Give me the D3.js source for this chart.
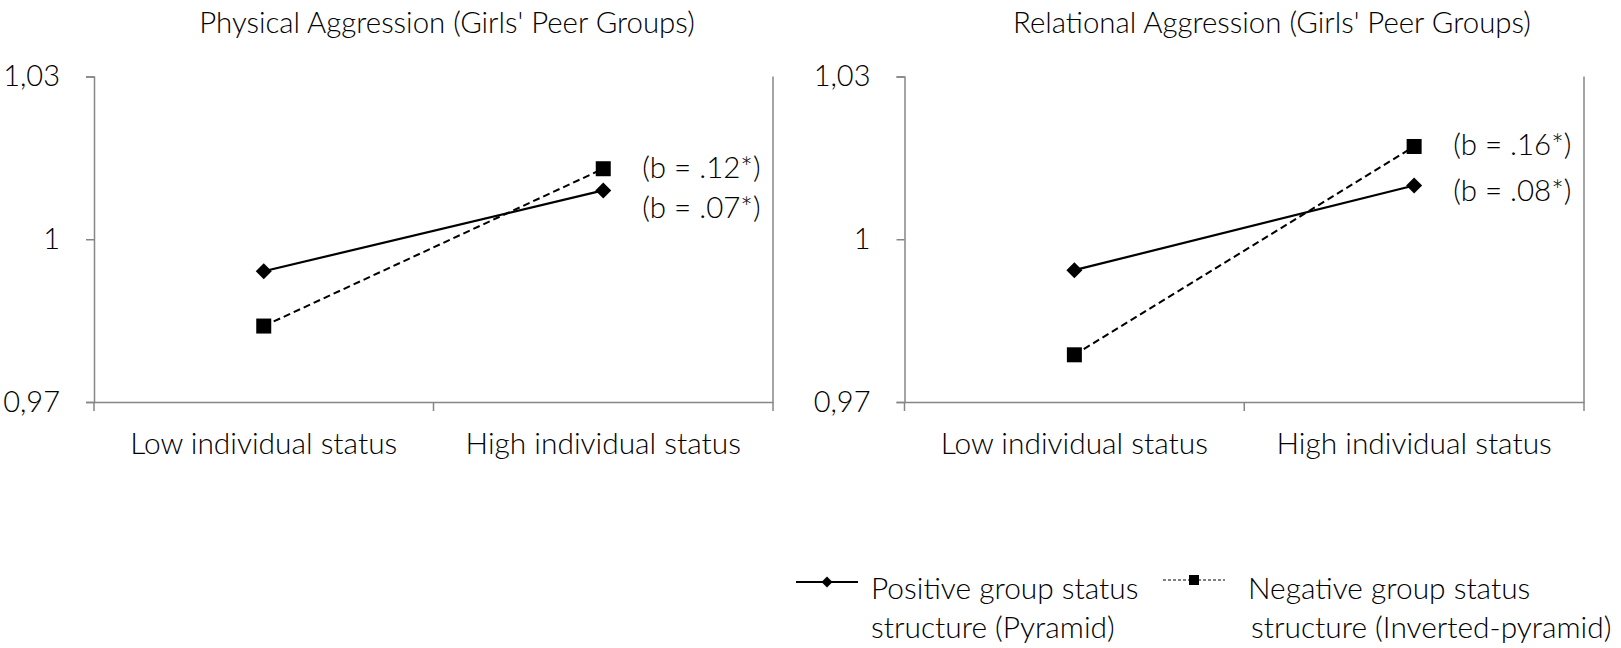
<!DOCTYPE html>
<html><head><meta charset="utf-8">
<script src="https://cdn.jsdelivr.net/npm/d3@7"></script>
<style>
body{margin:0;background:#fff;}
svg text{font-family:Lato,"Open Sans",sans-serif;fill:#000;font-weight:300;}
</style></head>
<body><svg id="c" width="1621" height="648"></svg>
<script>
const categories = ["Low individual status", "High individual status"];
const titles = ["Physical Aggression (Girls' Peer Groups)", "Relational Aggression (Girls' Peer Groups)"];
const seriesNames = ["Positive group status structure (Pyramid)", "Negative group status structure (Inverted-pyramid)"];
const physicalPositive = [0.9941, 1.0090];
const physicalNegative = [0.9840, 1.0130];
const relationalPositive = [0.9943, 1.0099];
const relationalNegative = [0.9787, 1.0171];
const physicalLabels = ["(b = .07*)", "(b = .12*)"];
const relationalLabels = ["(b = .08*)", "(b = .16*)"];
const tickValues = [0.97, 1, 1.03];
const tickLabels = ["0,97", "1", "1,03"];

const svg = d3.select("#c");
const axisColor = "#868686";

const panels = [
  {title: titles[0], pos: physicalPositive, neg: physicalNegative, labels: physicalLabels, x0: 94, x1: 773, tx: 447},
  {title: titles[1], pos: relationalPositive, neg: relationalNegative, labels: relationalLabels, x0: 904.5, x1: 1584, tx: 1272}
];
const yTop = 76.5, yBot = 402;

function diamond(g, x, y, r) {
  g.append("path").attr("d", `M${x},${y-r}L${x+r},${y}L${x},${y+r}L${x-r},${y}Z`).attr("fill", "#000");
}
function square(g, x, y, s) {
  g.append("rect").attr("x", x - s/2).attr("y", y - s/2).attr("width", s).attr("height", s).attr("fill", "#000");
}

panels.forEach(p => {
  const g = svg.append("g");
  const x = d3.scaleBand().domain(categories).range([p.x0, p.x1]).padding(0);
  const y = d3.scaleLinear().domain([0.97, 1.03]).range([yBot, yTop]);
  const cx = c => x(c) + x.bandwidth() / 2;

  g.append("text").attr("x", p.tx).attr("y", 23).attr("dy", "0.35em").attr("text-anchor", "middle")
    .style("font-size", "29.4px").text(p.title);

  // y axis
  const ya = g.append("g").attr("transform", `translate(${p.x0},0)`)
    .call(d3.axisLeft(y).tickValues(tickValues).tickFormat((d, i) => tickLabels[i]).tickSize(8).tickPadding(26));
  ya.select(".domain").attr("stroke", axisColor).attr("stroke-width", 1.5);
  ya.selectAll(".tick line").attr("stroke", axisColor).attr("stroke-width", 1.5);
  ya.selectAll(".tick text").style("font-size", "29px").style("font-family", "Lato,sans-serif").attr("fill", "#000");

  // x axis with ticks at band boundaries
  const xa = g.append("g").attr("transform", `translate(0,${yBot})`)
    .call(d3.axisBottom(x).tickSize(0).tickPadding(0));
  xa.select(".domain").attr("stroke", axisColor).attr("stroke-width", 1.5);
  xa.selectAll(".tick text").style("font-size", "29.9px").style("font-family", "Lato,sans-serif").attr("fill", "#000")
    .attr("y", 42).attr("dy", "0.35em");
  const bounds = categories.map(c => x(c)).concat([p.x1]);
  g.selectAll(".xt").data(bounds).enter().append("line")
    .attr("x1", d => d).attr("x2", d => d).attr("y1", yBot).attr("y2", yBot + 9)
    .attr("stroke", axisColor).attr("stroke-width", 1.5);
  // right border
  g.append("line").attr("x1", p.x1).attr("x2", p.x1).attr("y1", yTop).attr("y2", yBot)
    .attr("stroke", axisColor).attr("stroke-width", 1.5);

  const line = d3.line().x((d, i) => cx(categories[i])).y(d => y(d));
  g.append("path").attr("d", line(p.neg)).attr("fill", "none").attr("stroke", "#000")
    .attr("stroke-width", 2).attr("stroke-dasharray", "7,4");
  g.append("path").attr("d", line(p.pos)).attr("fill", "none").attr("stroke", "#000").attr("stroke-width", 2.2);
  p.neg.forEach((v, i) => square(g, cx(categories[i]), y(v), 15));
  p.pos.forEach((v, i) => diamond(g, cx(categories[i]), y(v), 8));

  // slope labels
  const lx = cx(categories[1]) + 39;
  const posY = y(p.pos[1]), negY = y(p.neg[1]);
  const negLabelY = negY - 1.5;
  const posLabelY = Math.max(posY + 5, negLabelY + 40);
  g.append("text").attr("x", lx).attr("y", negLabelY).attr("dy", "0.35em").style("font-size", "29.5px").text(p.labels[1]);
  g.append("text").attr("x", lx).attr("y", posLabelY).attr("dy", "0.35em").style("font-size", "29.5px").text(p.labels[0]);
});

// legend
const lg = svg.append("g");
const legendItems = [
  {name: seriesNames[0], lx1: 796, lx2: 858, ly: 582, tx: 871, dash: null, marker: "d"},
  {name: seriesNames[1], lx1: 1163, lx2: 1225, ly: 580, tx: 1248, dash: "3,2", marker: "s"}
];
const splitNames = [["Positive group status", "structure (Pyramid)"], ["Negative group status", "structure (Inverted-pyramid)"]];
legendItems.forEach((it, k) => {
  lg.append("line").attr("x1", it.lx1).attr("x2", it.lx2).attr("y1", it.ly).attr("y2", it.ly)
    .attr("stroke", "#000").attr("stroke-width", it.dash ? 1.2 : 1.8).attr("stroke-dasharray", it.dash);
  const mx = (it.lx1 + it.lx2) / 2;
  if (it.marker === "d") diamond(lg, mx, it.ly, 5.5); else square(lg, mx, it.ly, 10);
  const t = lg.append("text").attr("x", it.tx).attr("y", 589).attr("dy", "0.35em").style("font-size", "29.9px");
  t.append("tspan").attr("x", it.tx).text(splitNames[k][0]);
  t.append("tspan").attr("x", it.tx + (k === 1 ? 3 : 0)).attr("dy", 38.5).text(splitNames[k][1]);
});
</script></body></html>
